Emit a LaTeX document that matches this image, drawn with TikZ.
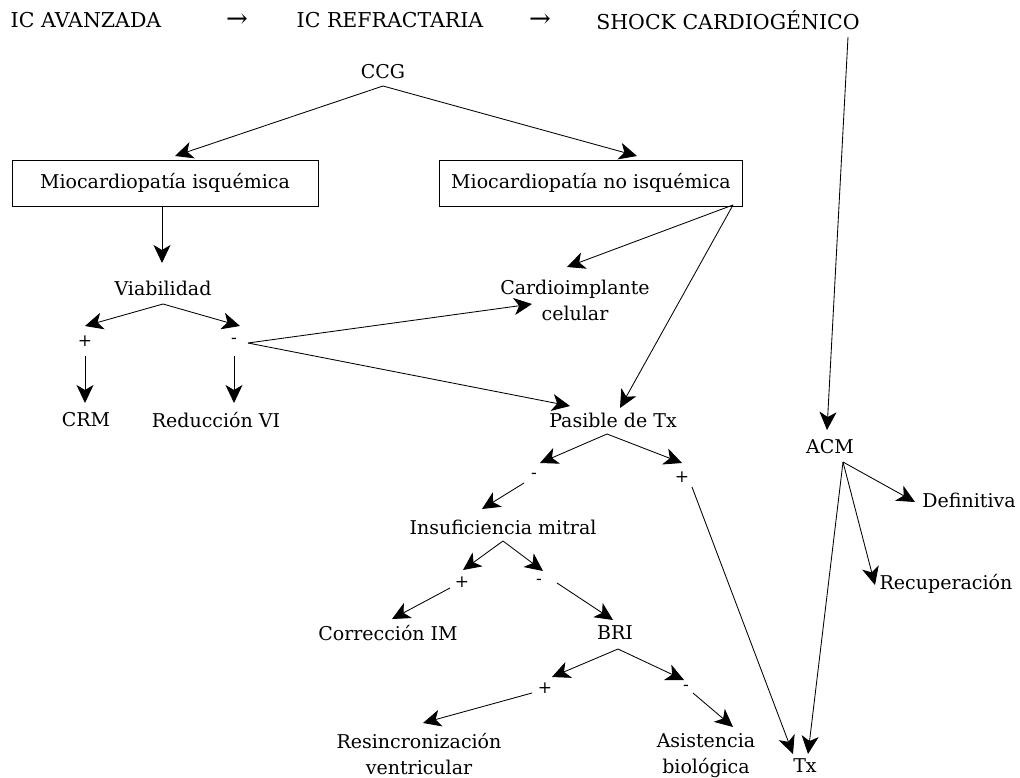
\documentclass[tikz,border=0pt]{standalone}
\usepackage{fontspec}
\setmainfont{DejaVu Serif}
\usetikzlibrary{arrows.meta,calc}
\begin{document}
\begin{tikzpicture}[x=1pt,y=-1pt,
  lbl/.style={font=\fontsize{19}{26}\selectfont,inner sep=0pt,align=center},
  toplbl/.style={font=\fontsize{20.5}{24}\selectfont,inner sep=0pt},
  arrsym/.style={font=\fontsize{26}{28}\selectfont,inner sep=0pt},
  sgn/.style={font=\fontsize{17}{19}\selectfont,inner sep=0pt},
  boxn/.style={draw,line width=0.9pt,font=\fontsize{19}{23}\selectfont,minimum height=46pt,inner sep=0pt},
  arr/.style={line width=0.85pt,-{Stealth[length=18pt,width=17pt,inset=5pt]}},
  ln/.style={line width=0.8pt}]
\useasboundingbox (0,0) rectangle (1020,778);
% top row
\node[toplbl] (ica) at (86,20) {IC AVANZADA};
\node[arrsym] (a1) at (237,21) {→};
\node[toplbl] (icr) at (390,20) {IC REFRACTARIA};
\node[arrsym] (a2) at (540,21) {→};
\node[toplbl] (shock) at (728,20) {SHOCK CARDIOGÉNICO};
% nodes
\node[lbl] (ccg) at (383,72) {CCG};
\node[boxn,minimum width=306pt] (mi) at (165,183) {Miocardiopatía isquémica};
\node[boxn,minimum width=303pt] (mni) at (591,183) {Miocardiopatía no isquémica};
\node[lbl] (viab) at (163,288) {Viabilidad};
\node[sgn] (vp) at (85,341) {+};
\node[sgn] (vm) at (234,341) {-};
\node[lbl] (crm) at (86,420) {CRM};
\node[lbl] (red) at (216,420) {Reducción VI};
\node[lbl] (cardio) at (575,300) {Cardioimplante\\celular};
\node[lbl] (pas) at (613,420) {Pasible de Tx};
\node[sgn] (pm) at (534,476) {-};
\node[sgn] (pp) at (682,477) {+};
\node[lbl] (ins) at (503,527) {Insuficiencia mitral};
\node[sgn] (ip) at (462,582) {+};
\node[sgn] (im) at (539,582) {-};
\node[lbl] (corr) at (388,633) {Corrección IM};
\node[lbl] (bri) at (615,633) {BRI};
\node[sgn] (bp) at (545,688) {+};
\node[sgn] (bm) at (686,688) {-};
\node[lbl] (resin) at (419,754) {Resincronización\\ventricular};
\node[lbl] (asis) at (706,756) {Asistencia\\biológica};
\node[lbl] (tx) at (805,766) {Tx};
\node[lbl] (acm) at (830,447) {ACM};
\node[lbl] (def) at (969,500) {Definitiva};
\node[lbl] (rec) at (946,584) {Recuperación};
% connectors
\draw[arr] ($(ccg)+(0,14)$) -- ($(mi)+(10,-27)$);
\draw[arr] ($(ccg)+(0,14)$) -- ($(mni)+(46,-27)$);
\draw[arr] ($(mi)+(-3,23)$) -- ($(viab)+(-1,-25)$);
\draw[arr] ($(viab)+(0,16)$) -- ($(vp)+(0,-15)$);
\draw[arr] ($(viab)+(0,16)$) -- ($(vm)+(6,-15)$);
\draw[arr] ($(vp)+(0,15)$) -- ($(crm)+(-1,-17)$);
\draw[arr] ($(vm)+(0,15)$) -- ($(red)+(18,-17)$);
\draw[arr] ($(vm)+(14,2)$) -- ($(cardio)+(-43,4)$);
\draw[arr] ($(vm)+(14,2)$) -- ($(pas)+(-43,-14)$);
\draw[arr] ($(mni)+(142,22)$) -- ($(cardio)+(-8,-33)$);
\draw[arr] ($(mni)+(142,22)$) -- ($(pas)+(7,-12)$);
\draw[arr] ($(pas)+(-6,14)$) -- ($(pm)+(6,-13)$);
\draw[arr] ($(pas)+(-6,14)$) -- ($(pp)+(0,-14)$);
\draw[arr] ($(pm)+(-10,7)$) -- ($(ins)+(-21,-18)$);
\draw[arr] ($(pp)+(10,10)$) -- ($(tx)+(-12,-12)$);
\draw[arr] ($(ins)+(0,14)$) -- ($(ip)+(1,-12)$);
\draw[arr] ($(ins)+(0,14)$) -- ($(im)+(4,-11)$);
\draw[arr] ($(ip)+(-12,6)$) -- ($(corr)+(4,-14)$);
\draw[arr] ($(im)+(18,1)$) -- ($(bri)+(-2,-13)$);
\draw[arr] ($(bri)+(3,16)$) -- ($(bp)+(7,-11)$);
\draw[arr] ($(bri)+(3,16)$) -- ($(bm)+(-2,-8)$);
\draw[arr] ($(bp)+(-13,5)$) -- ($(resin)+(4,-31)$);
\draw[arr] ($(bm)+(7,5)$) -- ($(asis)+(27,-29)$);
\draw[arr] ($(shock)+(120,17)$) -- ($(acm)+(-3,-17)$);
\draw[arr] ($(acm)+(13,15)$) -- ($(def)+(-54,2)$);
\draw[arr] ($(acm)+(13,15)$) -- ($(rec)+(-71,1)$);
\draw[arr] ($(acm)+(13,15)$) -- ($(tx)+(3,-12)$);
\end{tikzpicture}
\end{document}
